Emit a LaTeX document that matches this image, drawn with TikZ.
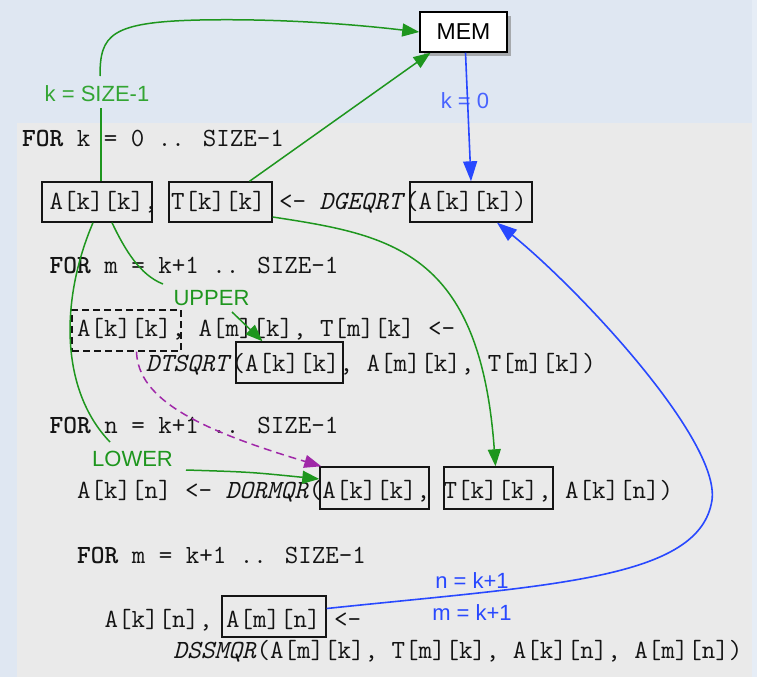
\documentclass[tikz,border=0pt]{standalone}
\usepackage{fontspec}
\newfontfamily\labfont{Liberation Sans}
\usetikzlibrary{arrows.meta,shadows}
\definecolor{bgblue}{HTML}{DFE7F2}
\definecolor{bgstrip}{HTML}{E6EDF6}
\definecolor{panel}{HTML}{EAEAEA}
\definecolor{gr}{HTML}{1E961E}
\definecolor{grl}{HTML}{33A533}
\definecolor{bl}{HTML}{2848FF}
\definecolor{pu}{HTML}{A028A8}
\definecolor{ink}{HTML}{141414}
\tikzset{
  code/.style={anchor=base west, inner sep=0pt, text=ink, font=\fontsize{26.2}{30}\selectfont\ttfamily},
  cbox/.style={draw=ink, line width=1.4pt, inner sep=0pt, minimum height=40pt},
  dbox/.style={draw=ink, line width=1.4pt, inner sep=0pt, minimum height=41pt, dash pattern=on 7pt off 4pt},
  lab/.style={anchor=base, inner sep=0pt, font=\labfont\fontsize{22}{24}\selectfont},
  gline/.style={draw=gr, line width=1.5pt},
  garr/.style={gline, -{Triangle[length=17pt,width=13pt]}},
  barr/.style={draw=bl, line width=1.6pt, -{Triangle[length=20pt,width=14pt]}},
  parr/.style={draw=pu, line width=1.5pt, dash pattern=on 8pt off 5pt, -{Triangle[length=17pt,width=13pt]}},
}
\begin{document}
\begin{tikzpicture}[x=1pt,y=-1pt]
\useasboundingbox (0,0) rectangle (757,677);
% background
\fill[bgblue] (0,0) rectangle (757,677);
\fill[bgstrip] (752,0) rectangle (757,677);
\fill[panel] (17,123) rectangle (752,677);

% code lines (x = 22 + indent * 13.75)
\node[code] (l1) at (22,146) {\textbf{FOR} k = 0 .. SIZE-1};
\node[code] (l2) at (49.5,209) {A[k][k], T[k][k] <- \textit{DGEQRT}(A[k][k])};
\node[code] (l3) at (49.5,273) {\textbf{FOR} m = k+1 .. SIZE-1};
\node[code] (l4) at (77,336) {A[k][k], A[m][k], T[m][k] <-};
\node[code] (l5) at (145.75,371) {\textit{DTSQRT}(A[k][k], A[m][k], T[m][k])};
\node[code] (l6) at (49.5,433) {\textbf{FOR} n = k+1 .. SIZE-1};
\node[code] (l7) at (77,498) {A[k][n] <- \textit{DORMQR}(A[k][k], T[k][k], A[k][n])};
\node[code] (l8) at (77,563) {\textbf{FOR} m = k+1 .. SIZE-1};
\node[code] (l9) at (104.5,627) {A[k][n], A[m][n] <-};
\node[code] (l10) at (173.25,658) {\textit{DSSMQR}(A[m][k], T[m][k], A[k][n], A[m][n])};

% boxes
\node[cbox, minimum width=110pt] (akk) at (97,202) {};
\node[cbox, minimum width=103pt] (tkk) at (220.5,202) {};
\node[cbox, minimum width=122pt] (dg) at (471,202) {};
\node[dbox, minimum width=109pt] (dk) at (126.5,330.5) {};
\node[cbox, minimum width=107pt, minimum height=41pt] (akt) at (289.5,362.5) {};
\node[cbox, minimum width=109pt, minimum height=42pt] (akd) at (374.5,488) {};
\node[cbox, minimum width=109pt, minimum height=42pt] (tkd) at (498.5,488) {};
\node[cbox, minimum width=104pt, minimum height=41pt] (amn) at (274,616.5) {};

% MEM
\node[draw=black, fill=white, line width=1.5pt, minimum width=87pt, minimum height=40pt, inner sep=0pt,
      drop shadow={opacity=0.6, shadow xshift=4pt, shadow yshift=-4pt},
      font=\labfont\fontsize{23}{25}\selectfont] (mem) at (463.5,32) {MEM};

% labels
\node[lab, text=grl] (ksz) at (97,101.5) {k = SIZE-1};
\node[lab, text=gr] (upper) at (211.5,305) {UPPER};
\node[lab, text=gr] (lower) at (132.5,466) {LOWER};
\node[lab, text=bl!85!white] (kz) at (465,108) {k = 0};
\node[lab, text=bl] (nk) at (472,588) {n = k+1};
\node[lab, text=bl] (mk) at (472,620) {m = k+1};

% free ends of interrupted connectors
\coordinate (g1a) at (101,108);
\coordinate (g1b) at (100,76);
\coordinate (g4a) at (110,442);
\coordinate (g4b) at (186,470);
\coordinate (g5a) at (163,284);
\coordinate (g5b) at (232,312);

% green connectors
\draw[gline] ([xshift=4pt]akk.north) -- (g1a);
\draw[garr] (g1b) .. controls (100,35) and (110,22) .. (200,20) .. controls (300,18) and (385,28) .. (mem.west);
\draw[garr] ([xshift=29pt]tkk.north) -- ([xshift=-33pt]mem.south);
\draw[garr] ([yshift=-15pt]tkk.east) .. controls (390,235) and (480,250) .. ([xshift=-3pt]tkd.north);
\draw[gline] ([xshift=-4pt]akk.south) .. controls (60,300) and (60,390) .. (g4a);
\draw[garr] (g4b) .. controls (250,472) .. ([yshift=9pt]akd.west);
\draw[gline] ([xshift=15pt]akk.south) .. controls (125,250) and (140,275) .. (g5a);
\draw[garr] (g5b) -- ([xshift=-27pt]akt.north);

% purple dashed
\draw[parr] ([xshift=10pt]dk.south) .. controls (138,400) and (200,430) .. ([xshift=2pt]akd.north west);

% blue connectors
\draw[barr] ([xshift=2pt]mem.south) -- (dg.north);
\draw[barr] ([yshift=8pt]amn.east) .. controls (550,585) and (700,580) .. (712,500) .. controls (720,440) and (580,290) .. ([xshift=26pt]dg.south);
\end{tikzpicture}
\end{document}
